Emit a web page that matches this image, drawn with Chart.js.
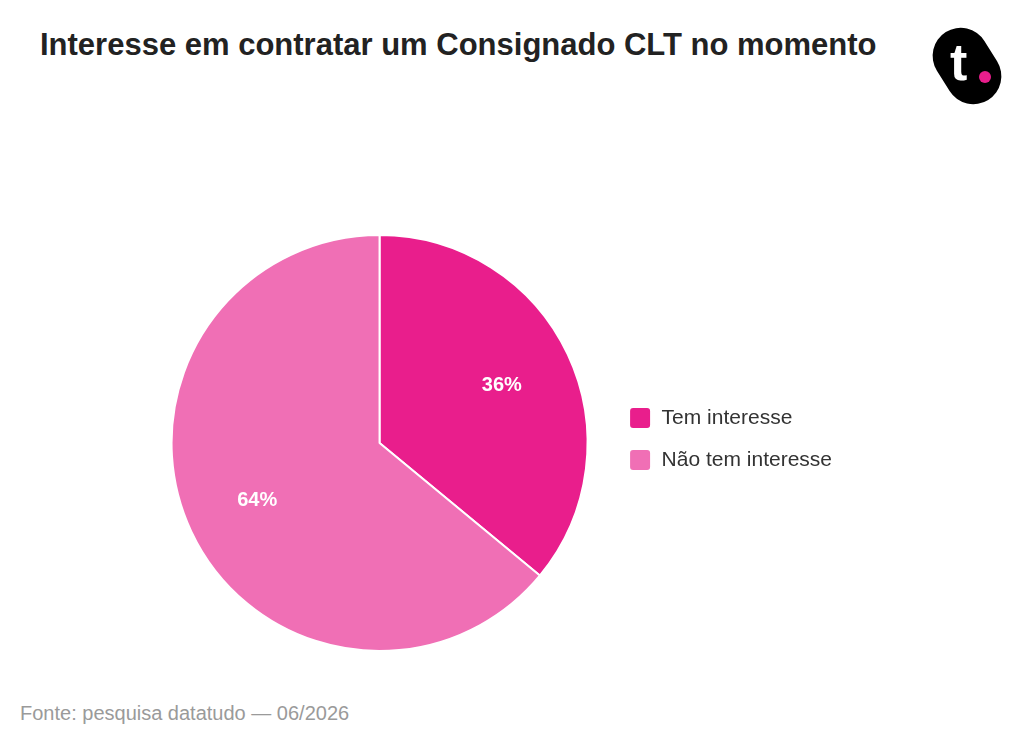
<!DOCTYPE html>
<html><head><meta charset="utf-8">
<script src="https://cdn.jsdelivr.net/npm/chart.js@4"></script>
<style>
html,body{margin:0;padding:0;background:#fff;width:1024px;height:750px;overflow:hidden;font-family:"Liberation Sans",Arial,sans-serif;}
#title{position:absolute;left:40px;top:27px;font-size:31px;font-weight:bold;color:#222;white-space:nowrap;line-height:36px;}
#foot{position:absolute;left:20px;top:701px;font-size:20px;color:#9a9a9a;white-space:nowrap;line-height:24px;}
#wrap{position:absolute;left:150px;top:234px;width:692px;height:418px;}
#logo{position:absolute;left:930px;top:26px;width:74px;height:78px;}
#blob{position:absolute;left:9px;top:0px;width:56px;height:80px;border-radius:28px;background:#000;transform:rotate(-32deg);}
#t{position:absolute;left:20px;top:8px;color:#fff;font-weight:bold;font-size:52px;font-family:"Liberation Sans",Arial,sans-serif;line-height:56px;}
#dot{position:absolute;left:49px;top:45px;width:12px;height:12px;border-radius:50%;background:#e91e8c;}
</style></head>
<body>
<div id="title">Interesse em contratar um Consignado CLT no momento</div>
<div id="logo"><div id="blob"></div><div id="t">t</div><div id="dot"></div></div>
<div id="wrap"><canvas id="c"></canvas></div>
<div id="foot">Fonte: pesquisa datatudo — 06/2026</div>
<script>
const categories = ["Tem interesse", "Não tem interesse"];
const values = [36, 64];
const colors = ["#e91e8c", "#f06fb5"];

const pctLabels = {
  id: 'pctLabels',
  afterDatasetsDraw(chart) {
    const ctx = chart.ctx;
    const meta = chart.getDatasetMeta(0);
    const total = values.reduce((a, b) => a + b, 0);
    ctx.save();
    ctx.font = 'bold 20px "Liberation Sans", Arial, sans-serif';
    ctx.fillStyle = '#fff';
    ctx.textAlign = 'center';
    ctx.textBaseline = 'middle';
    meta.data.forEach((arc, i) => {
      const p = arc.getProps(['x', 'y', 'startAngle', 'endAngle', 'outerRadius'], true);
      const mid = (p.startAngle + p.endAngle) / 2;
      const r = p.outerRadius * 0.65;
      ctx.fillText(Math.round(values[i] / total * 100) + '%', p.x + Math.cos(mid) * r, p.y + Math.sin(mid) * r);
    });
    ctx.restore();
  }
};

const legendNudge = {
  id: 'legendNudge',
  afterLayout(chart) {
    if (chart.legend) { chart.legend.top -= 4; chart.legend.bottom -= 4; }
  }
};

new Chart(document.getElementById('c'), {
  type: 'pie',
  data: {
    labels: categories,
    datasets: [{ data: values, backgroundColor: colors, borderColor: '#fff', borderWidth: 2 }]
  },
  options: {
    responsive: true,
    maintainAspectRatio: false,
    animation: false,
    layout: { padding: 0 },
    plugins: {
      legend: {
        position: 'right',
        labels: {
          boxWidth: 22, boxHeight: 22, padding: 20, useBorderRadius: true, borderRadius: 4,
          color: '#333', font: { size: 21, family: '"Liberation Sans", Arial, sans-serif' }
        }
      },
      tooltip: { enabled: false }
    }
  },
  plugins: [pctLabels, legendNudge]
});
</script>
</body></html>
